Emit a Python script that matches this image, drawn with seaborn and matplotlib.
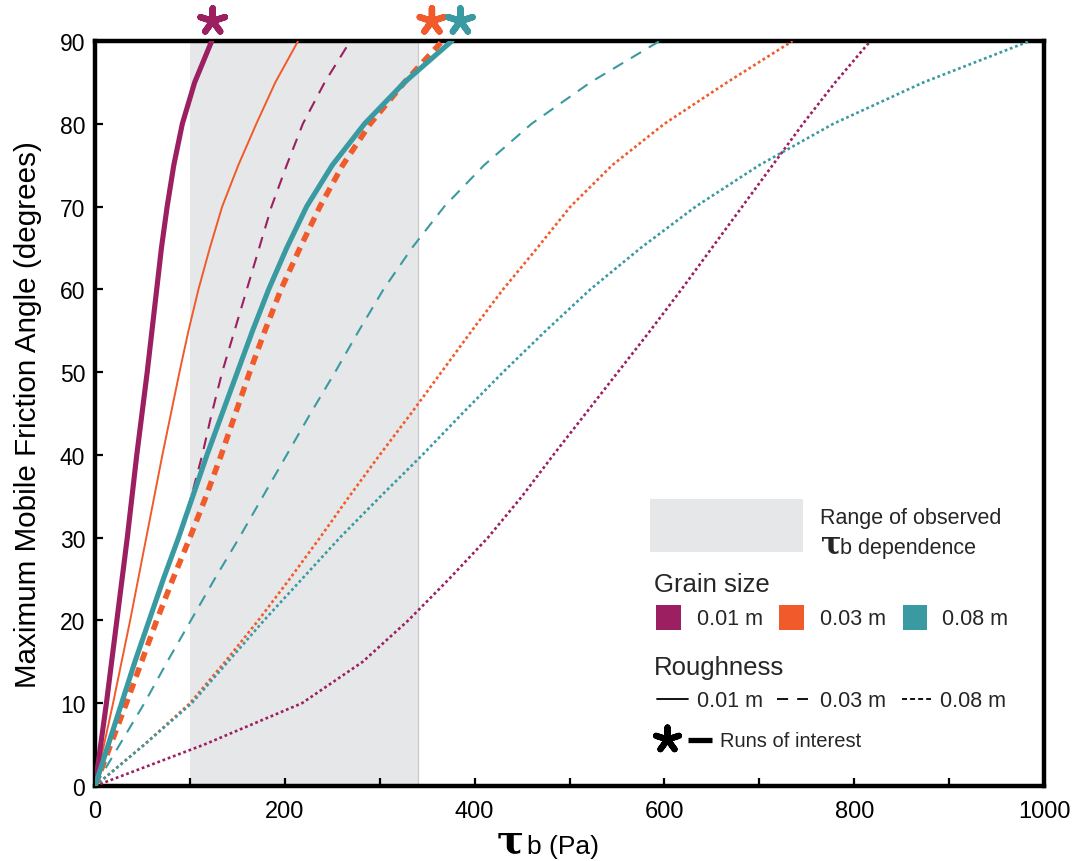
import matplotlib
matplotlib.use("Agg")
import matplotlib.pyplot as plt
import seaborn as sns
import pandas as pd
from matplotlib.patches import Rectangle
from matplotlib.lines import Line2D

sns.set_theme(style="white")
plt.rcParams["font.family"] = ["Liberation Sans", "DejaVu Sans"]
plt.rcParams["lines.scale_dashes"] = False

# ---------------- data ----------------
angle_levels = [0, 5, 10, 15, 20, 25, 30, 35, 40, 45,
                50, 55, 60, 65, 70, 75, 80, 85, 90]          # degrees
# tau_b (Pa) at each angle level; d = grain size, k = roughness
tau_d001_k001 = [0, 6, 12, 17.5, 23, 28.5, 34, 39, 44, 49.5,
                 55, 60, 65, 70, 76, 83, 92, 105, 123]
tau_d003_k001 = [0, 9.5, 19, 28, 37, 45.5, 54, 62.5, 71, 80,
                 89, 98.5, 109, 121, 134, 151, 170, 190, 214]
tau_d008_k001 = [0, 14, 28, 42, 57, 72, 88, 103, 118, 134,
                 150, 166, 183, 202, 223, 250, 284, 326, 376]
tau_d001_k003 = [0, 15, 29, 43, 57, 73, 88.5, 101.5, 113, 123,
                 134, 147, 160, 173, 186, 202, 219, 242, 269]
tau_d003_k003 = [0, 16.5, 33, 49, 65, 82, 100, 117, 133, 148,
                 163, 179, 196, 216, 237, 261, 290, 326, 366]
tau_d008_k003 = [0, 26, 52, 76, 101, 126, 152, 177, 202, 227,
                 253, 278, 304, 334, 368, 410, 460, 522, 595]
tau_d001_k008 = [0, 115, 218, 282, 330, 373, 414, 450, 483, 517,
                 551, 585, 618, 650, 682, 714, 746, 780, 817]
tau_d003_k008 = [0, 52, 100, 137, 172, 205, 237, 268, 300, 333,
                 365, 397, 430, 466, 501, 545, 600, 666, 735]
tau_d008_k008 = [0, 52, 102, 140, 178, 218, 258, 301, 345, 387,
                 430, 475, 522, 575, 633, 700, 778, 873, 985]

observed_range = [100, 340]                       # shaded tau_b range
star_tau = [124, 355, 385]                        # runs of interest markers
star_grain = ["0.01 m", "0.03 m", "0.08 m"]
grain_labels = ["0.01 m", "0.03 m", "0.08 m"]
rough_labels = ["0.01 m", "0.03 m", "0.08 m"]
xtick_major = [0, 200, 400, 600, 800, 1000]
xtick_minor = [100, 300, 500, 700, 900]
ytick_vals = [0, 10, 20, 30, 40, 50, 60, 70, 80, 90]

# ---------------- styles ----------------
PURPLE = "#9c1f62"
ORANGE = "#f15a2a"
TEAL = "#3a9aa2"
SHADE = "#e6e7e8"
grain_colors = dict(zip(grain_labels, [PURPLE, ORANGE, TEAL]))

SOLID = "-"
DASH = (0, (8.5, 6.5))
DASH_THICK = (0, (7.0, 5.0))
DOT = (0, (2.0, 2.0))

curves = [
    # tau, grain, linewidth, linestyle, zorder
    (tau_d001_k008, "0.01 m", 1.9, DOT, 3),
    (tau_d003_k008, "0.03 m", 1.9, DOT, 3),
    (tau_d008_k008, "0.08 m", 1.9, DOT, 3),
    (tau_d008_k003, "0.08 m", 1.5, DASH, 3),
    (tau_d001_k003, "0.01 m", 1.5, DASH, 3),
    (tau_d003_k001, "0.03 m", 1.4, SOLID, 4),
    (tau_d003_k003, "0.03 m", 4.0, DASH_THICK, 5),
    (tau_d001_k001, "0.01 m", 3.7, SOLID, 6),
    (tau_d008_k001, "0.08 m", 3.7, SOLID, 6),
]

# ---------------- figure ----------------
fig = plt.figure(figsize=(10.81, 8.62), dpi=100)
ax = fig.add_axes([0.0879, 0.0870, 0.8779, 0.8643])

ax.axvspan(observed_range[0], observed_range[1], color=SHADE, lw=0, zorder=0)
ax.axvline(observed_range[1], color="#c9c9c9", lw=0.9, zorder=0.5)

for tau, grain, lw, ls, z in curves:
    df = pd.DataFrame({"tau": tau, "angle": angle_levels})
    sns.lineplot(data=df, x="tau", y="angle", ax=ax, color=grain_colors[grain],
                 lw=lw, linestyle=ls, sort=False, estimator=None, zorder=z,
                 legend=False, solid_joinstyle="round")

star_df = pd.DataFrame({"tau": star_tau, "angle": [92.4] * 3, "grain": star_grain})
sns.scatterplot(data=star_df, x="tau", y="angle", hue="grain",
                palette=grain_colors, marker=(5, 2, 0), s=340,
                linewidth=4.6, ax=ax, legend=False, zorder=10)
for coll in ax.collections:
    coll.set_clip_on(False)

ax.set_xlim(0, 1000)
ax.set_ylim(0, 90)
ax.set_xticks(xtick_major)
ax.set_xticks(xtick_minor, minor=True)
ax.set_yticks(ytick_vals)
ax.tick_params(axis="both", which="both", direction="in", length=6, width=1.6,
               color="black", labelcolor="black", pad=7)
ax.tick_params(axis="x", which="both", bottom=True, top=False, labelsize=17,
               pad=10)
ax.tick_params(axis="y", which="both", left=True, right=False, labelsize=16.5)
for lab in ax.get_xticklabels():
    lab.set_fontfamily(["Liberation Sans Narrow", "Liberation Sans"])
for sp in ax.spines.values():
    sp.set_visible(True)
    sp.set_linewidth(3.2)
    sp.set_color("black")
ax.grid(False)

ax.set_xlabel("")
ax.set_ylabel("Maximum Mobile Friction Angle (degrees)", fontsize=21.3,
              labelpad=13, color="black")

# x-axis label: tau_b (Pa)
ax.text(0.437, -0.074, "τ", transform=ax.transAxes, fontsize=29,
        fontweight="bold", family="DejaVu Serif", ha="center", va="center",
        color="black")
ax.text(0.455, -0.081, "b (Pa)", transform=ax.transAxes, fontsize=19,
        ha="left", va="center", color="black",
        family=["Liberation Sans Narrow", "Liberation Sans"])

# ---------------- hand-built legend ----------------
T = ax.transAxes
ax.add_patch(Rectangle((0.585, 0.314), 0.161, 0.071, transform=T,
                       facecolor=SHADE, edgecolor="none", zorder=7))
ax.text(0.764, 0.361, "Range of observed", transform=T, fontsize=15.5,
        ha="left", va="center", zorder=8)
ax.text(0.7655, 0.325, "τ", transform=T, fontsize=22, fontweight="bold",
        family="DejaVu Serif", ha="left", va="center", zorder=8)
ax.text(0.785, 0.320, "b dependence", transform=T, fontsize=15.5,
        ha="left", va="center", zorder=8)

ax.text(0.589, 0.271, "Grain size", transform=T, fontsize=18.5,
        ha="left", va="center", zorder=8)
for xs, xt, g in zip([0.591, 0.721, 0.851], [0.634, 0.764, 0.893], grain_labels):
    ax.add_patch(Rectangle((xs, 0.209), 0.026, 0.034, transform=T,
                           facecolor=grain_colors[g], edgecolor="none", zorder=8))
    ax.text(xt, 0.2255, g, transform=T, fontsize=15.5, ha="left",
            va="center", zorder=8)

ax.text(0.589, 0.160, "Roughness", transform=T, fontsize=18.5,
        ha="left", va="center", zorder=8)
for (x0, x1, xt, ls, r) in [(0.592, 0.625, 0.634, SOLID, rough_labels[0]),
                            (0.719, 0.751, 0.764, (0, (8.0, 6.5)), rough_labels[1]),
                            (0.850, 0.881, 0.890, (0, (3.6, 2.2)), rough_labels[2])]:
    ax.add_line(Line2D([x0, x1], [0.117, 0.117], transform=T, color="black",
                       lw=1.3, linestyle=ls, zorder=8))
    ax.text(xt, 0.115, r, transform=T, fontsize=15.5, ha="left",
            va="center", zorder=8)

ax.scatter([0.603], [0.063], transform=T, marker=(5, 2, 0), s=300,
           linewidths=4.4, color="black", zorder=8, clip_on=False)
ax.add_line(Line2D([0.625, 0.650], [0.062, 0.062], transform=T, color="black",
                   lw=3.8, solid_capstyle="butt", zorder=8))
ax.text(0.6585, 0.0605, "Runs of interest", transform=T, fontsize=14.5,
        ha="left", va="center", zorder=8)

fig.savefig("out.png", dpi=100, facecolor="white")
